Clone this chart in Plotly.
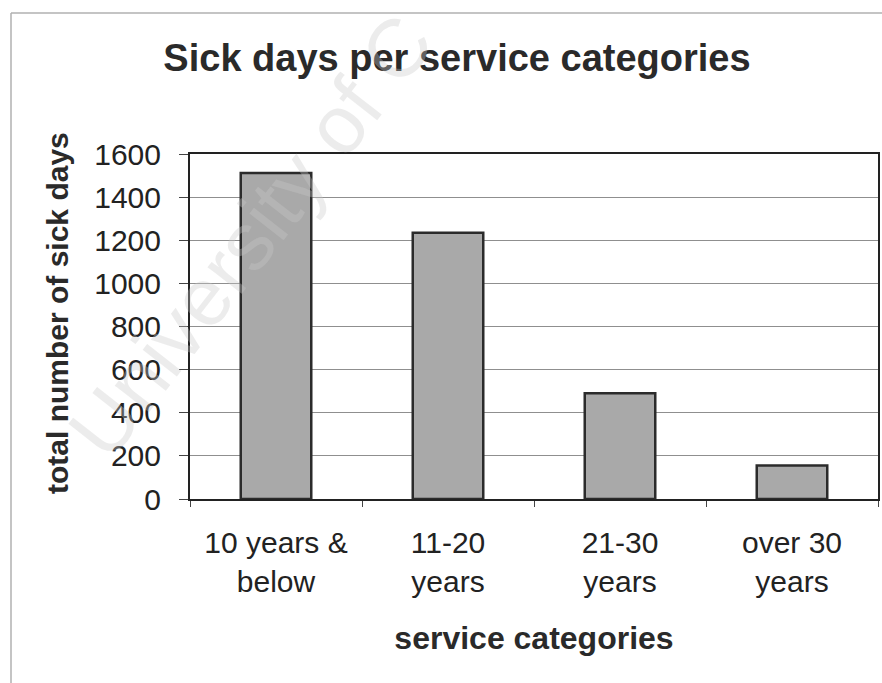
import plotly.graph_objects as go

# ---- data ----
categories = ["10 years &<br>below", "11-20<br>years", "21-30<br>years", "over 30<br>years"]
sick_days = [1512, 1235, 490, 155]
y_ticks = [0, 200, 400, 600, 800, 1000, 1200, 1400, 1600]

title_text = "<b>Sick days per service categories</b>"
x_title = "<b>service categories</b>"
y_title = "<b>total number of sick days</b>"
watermark = "University of C"

FONT = "Liberation Sans, Arial, Helvetica, sans-serif"
W, H = 882, 683
L, R, T, B = 190, 4, 154, 184
pw, ph = W - L - R, H - T - B


def px_to_paper(x, y):
    return (x - L) / pw, (H - B - y) / ph


fig = go.Figure()
fig.add_trace(go.Bar(
    x=categories,
    y=sick_days,
    width=0.41,
    marker=dict(color="#a9a9a9", line=dict(color="#2b2b2b", width=2.5)),
    hoverinfo="x+y",
))

fig.update_layout(
    template="none",
    width=W, height=H,
    margin=dict(l=L, r=R, t=T, b=B, autoexpand=False),
    paper_bgcolor="white",
    plot_bgcolor="white",
    showlegend=False,
    font=dict(family=FONT, color="#222222"),
    title=dict(
        text=title_text,
        font=dict(family=FONT, size=38, color="#2a2a2a"),
        x=457 / W, xref="container", xanchor="center",
        y=1 - 58 / H, yref="container", yanchor="middle",
    ),
    bargap=0.59,
)

fig.update_xaxes(
    type="category",
    showline=True, linecolor="#222222", linewidth=2, mirror=True,
    ticks="outside", tickson="boundaries", ticklen=6, tickcolor="#444444", tickwidth=1,
    tickfont=dict(family=FONT, size=30, color="#222222"),
    showgrid=False, zeroline=False, automargin=False,
    ticklabelstandoff=16,
    title=dict(text=x_title, font=dict(family=FONT, size=32, color="#2a2a2a"), standoff=30),
)
fig.update_yaxes(
    range=[0, 1600], tickvals=y_ticks,
    showline=True, linecolor="#222222", linewidth=2, mirror=True,
    ticks="outside", ticklen=9, tickcolor="#444444", tickwidth=1,
    tickfont=dict(family=FONT, size=30, color="#222222"),
    showgrid=True, gridcolor="#8f8f8f", gridwidth=1.2,
    zeroline=False, automargin=False,
    ticklabelstandoff=12,
)

# y-axis title, placed where the reference has it
tx, ty = px_to_paper(57, 313)
fig.add_annotation(
    text=y_title, xref="paper", yref="paper", x=tx, y=ty,
    xanchor="center", yanchor="middle", showarrow=False, textangle=-90,
    font=dict(family=FONT, size=30, color="#2a2a2a"),
)

# outer chart frame (top and left edges visible in the scan)
x0, y0 = px_to_paper(11, 13)
x1, y1 = px_to_paper(W + 2, H + 2)
fig.add_shape(type="line", xref="paper", yref="paper", x0=x0, y0=y0, x1=x1, y1=y0,
              line=dict(color="#b0b0b0", width=1.5))
fig.add_shape(type="line", xref="paper", yref="paper", x0=x0, y0=y0, x1=x0, y1=y1,
              line=dict(color="#b0b0b0", width=1.5))

# faint diagonal watermark
wx, wy = px_to_paper(250, 236)
fig.add_annotation(
    text=watermark, xref="paper", yref="paper", x=wx, y=wy,
    xanchor="center", yanchor="middle", showarrow=False, textangle=-52,
    font=dict(family=FONT, size=82, color="rgba(200,200,200,0.35)"),
)

fig.write_html("out.html")
